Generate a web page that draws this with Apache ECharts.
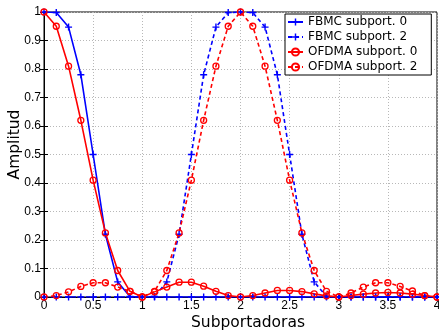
<!DOCTYPE html>
<html>
<head>
<meta charset="utf-8">
<script src="https://cdn.jsdelivr.net/npm/echarts@6/dist/echarts.min.js"></script>
<style>html,body{margin:0;padding:0;background:#fff;}#c{width:439px;height:330px;}</style>
</head>
<body>
<div id="c"></div>
<script>
var xValues = [0,0.125,0.25,0.375,0.5,0.625,0.75,0.875,1,1.125,1.25,1.375,1.5,1.625,1.75,1.875,2,2.125,2.25,2.375,2.5,2.625,2.75,2.875,3,3.125,3.25,3.375,3.5,3.625,3.75,3.875,4];
var fbmc0 = [1,0.998,0.947,0.78,0.5,0.22,0.053,0.002,0,0,0,0,0,0,0,0,0,0,0,0,0,0,0,0,0,0,0,0,0,0,0,0,0];
var fbmc2 = [0,0,0,0,0,0,0,0,0,0.002,0.053,0.22,0.5,0.78,0.947,0.998,1,0.998,0.947,0.78,0.5,0.22,0.053,0.002,0,0,0,0,0,0,0,0,0];
var ofdma0 = [1,0.95,0.81,0.62,0.41,0.225,0.093,0.02,0,0.018,0.035,0.052,0.052,0.038,0.02,0.005,0,0.005,0.014,0.023,0.023,0.019,0.011,0.004,0,0.005,0.01,0.014,0.016,0.014,0.01,0.005,0];
var ofdma2 = [0,0.005,0.018,0.037,0.05,0.05,0.035,0.02,0,0.02,0.093,0.225,0.41,0.62,0.81,0.95,1,0.95,0.81,0.62,0.41,0.225,0.093,0.02,0,0.014,0.035,0.05,0.05,0.037,0.021,0.005,0];
var seriesNames = ['FBMC subport. 0','FBMC subport. 2','OFDMA subport. 0','OFDMA subport. 2'];
var xTicks = [0,0.5,1,1.5,2,2.5,3,3.5,4];
var yTicks = [0,0.1,0.2,0.3,0.4,0.5,0.6,0.7,0.8,0.9,1];

function pairs(ys){ return xValues.map(function(x,i){ return [x, ys[i]]; }); }

var plusPath = 'path://M4,0h2v10h-2zM0,4h10v2h-10z';
var blue = '#0000ff', red = '#ff0000';
function mk(name, data, color, dashed, isPlus){
  var s = {
    name: name, type: 'line', data: pairs(data),
    showAllSymbol: true, animation: false, z: 3,
    lineStyle: {color: color, width: 1.6, type: dashed ? [4,3] : 'solid'}
  };
  if (isPlus) {
    s.symbol = plusPath;
    s.symbolSize = 7;
    s.itemStyle = {color: color};
  } else {
    s.symbol = 'circle';
    s.symbolSize = 6;
    s.itemStyle = {color: 'rgba(255,255,255,0)', borderColor: color, borderWidth: 1.3};
  }
  return s;
}

var chart = echarts.init(document.getElementById('c'), null, {renderer: 'canvas'});
var tickFont = {fontFamily: 'Liberation Sans', fontSize: 12, color: '#000'};
var split = {show: true, lineStyle: {color: '#b8b8b8', type: [1,2], width: 1}};
chart.setOption({
  animation: false,
  backgroundColor: '#fff',
  grid: {left: 44, right: 2, top: 12, bottom: 33, containLabel: false, outerBoundsMode: 'none',
         show: true, borderColor: '#000', borderWidth: 1, backgroundColor: 'transparent'},
  legend: {
    orient: 'vertical', left: 285, top: 14,
    data: seriesNames,
    backgroundColor: '#fff', borderColor: '#000', borderWidth: 1, borderRadius: 0,
    padding: [1, 14, 1, 2], itemWidth: 15, itemHeight: 9, itemGap: 1,
    textStyle: {fontFamily: 'DejaVu Sans', fontSize: 12, lineHeight: 14, color: '#000'}
  },
  xAxis: [{
    type: 'value', min: 0, max: 4, interval: 0.5,
    name: 'Subportadoras', nameLocation: 'middle', nameGap: 18, nameMoveOverlap: false,
    nameTextStyle: {fontFamily: 'DejaVu Sans', fontSize: 15.5, color: '#000', padding: [0,0,0,15]},
    axisLine: {show: true, lineStyle: {color: '#000'}},
    axisTick: {show: true, inside: true, length: 4, lineStyle: {color: '#000'}},
    axisLabel: Object.assign({margin: 3, formatter: function(v){ return xTicks.indexOf(v) >= 0 ? String(v) : ''; }}, tickFont),
    splitLine: split
  },{
    type: 'value', min: 0, max: 4, interval: 0.5, position: 'top',
    axisLine: {show: false}, axisLabel: {show: false}, splitLine: {show: false},
    axisTick: {show: true, inside: true, length: 4, lineStyle: {color: '#000'}}
  }],
  yAxis: [{
    type: 'value', min: 0, max: 1, interval: 0.1,
    name: 'Amplitud', nameLocation: 'middle', nameGap: 21, nameRotate: 90, nameMoveOverlap: false,
    nameTextStyle: {fontFamily: 'DejaVu Sans', fontSize: 15.5, color: '#000', padding: [0,0,0,20]},
    axisLine: {show: true, lineStyle: {color: '#000'}},
    axisTick: {show: true, inside: true, length: 4, lineStyle: {color: '#000'}},
    axisLabel: Object.assign({margin: 3, formatter: function(v){ var r = Math.round(v*10)/10; return yTicks.indexOf(r) >= 0 ? String(r) : ''; }}, tickFont),
    splitLine: split
  },{
    type: 'value', min: 0, max: 1, interval: 0.1, position: 'right',
    axisLine: {show: false}, axisLabel: {show: false}, splitLine: {show: false},
    axisTick: {show: true, inside: true, length: 4, lineStyle: {color: '#000'}}
  }],
  series: [
    mk(seriesNames[0], fbmc0, blue, false, true),
    mk(seriesNames[1], fbmc2, blue, true, true),
    mk(seriesNames[2], ofdma0, red, false, false),
    mk(seriesNames[3], ofdma2, red, true, false)
  ]
});
</script>
</body>
</html>
